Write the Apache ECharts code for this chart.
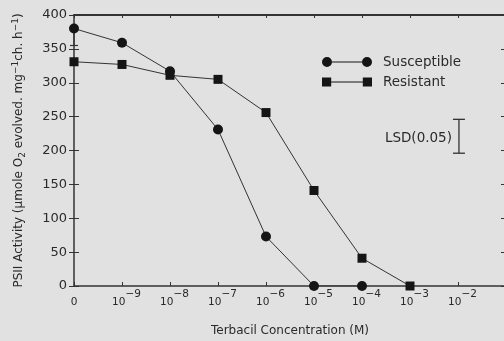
<!DOCTYPE html>
<html>
<head>
<meta charset="utf-8">
<script src="https://cdn.jsdelivr.net/npm/echarts@6/dist/echarts.min.js"></script>
<style>
html,body{margin:0;padding:0;background:#e1e1e1;}
#c{width:504px;height:341px;}
</style>
</head>
<body>
<div id="c"></div>
<script>
// x positions: 0 = control, 1..8 = 10^-9 .. 10^-2 M
var xExponents = [null, -9, -8, -7, -6, -5, -4, -3, -2];
var susceptibleX = [0, 1, 2, 3, 4, 5, 6];
var susceptibleY = [380, 359, 317, 231, 73, 0, 0];
var resistantX = [0, 1, 2, 3, 4, 5, 6, 7];
var resistantY = [331, 327, 311, 305, 256, 141, 41, 0];
// error bar (susceptible control)
var errX = [0];
var errLow = [355];
var errHigh = [380];
// LSD bar
var lsdX = [8.02];
var lsdLow = [196];
var lsdHigh = [246];
var lsdLabel = 'LSD(0.05)';

var FONT = 'DejaVu Sans';
var AX = '#333';

function pairs(xs, ys){ return xs.map(function(x,i){return [x, ys[i]];}); }

var chart = echarts.init(document.getElementById('c'), null, {renderer:'canvas'});

var circleIcon = 'path://M0,5A5,5,0,1,1,10,5A5,5,0,1,1,0,5Z M10,4.5L40,4.5L40,5.5L10,5.5Z M40,5A5,5,0,1,1,50,5A5,5,0,1,1,40,5Z';
var squareIcon = 'path://M0.5,0.5L9.5,0.5L9.5,9.5L0.5,9.5Z M9.5,4.5L40.5,4.5L40.5,5.5L9.5,5.5Z M40.5,0.5L49.5,0.5L49.5,9.5L40.5,9.5Z';

var xBase = {
  type:'value', min:0, max:9, interval:1,
  splitLine:{show:false}
};
var yBase = {
  type:'value', min:0, max:400, interval:50,
  splitLine:{show:false}
};

chart.setOption({
  backgroundColor:'#e1e1e1',
  animation:false,
  grid:{left:74, right:-2, top:15, bottom:55, outerBoundsMode:'none', containLabel:false},
  legend:{
    orient:'vertical', left:317, top:50, padding:5, itemWidth:50, itemHeight:10, itemGap:6,
    textStyle:{fontFamily:FONT, fontSize:13.5, color:'#2a2a2a', padding:[0,0,0,6]},
    data:[{name:'Susceptible', icon:circleIcon},{name:'Resistant', icon:squareIcon}]
  },
  xAxis:[
    Object.assign({}, xBase, {
      position:'bottom',
      name:'Terbacil Concentration (M)', nameLocation:'middle', nameGap:39,
      nameTextStyle:{fontFamily:FONT, fontSize:12, color:'#2a2a2a'},
      axisLine:{show:true, onZero:false, lineStyle:{color:AX, width:1.5}},
      axisTick:{show:true, inside:true, length:4, lineStyle:{color:AX}},
      axisLabel:{
        margin:3, color:'#2a2a2a', fontFamily:FONT,
        formatter:function(v){
          var i = Math.round(v);
          if (i === 0) return '{b|0}';
          if (i > 8) return '';
          return '{p|}{b|10}{s|\u2212' + (-xExponents[i]) + '}';
        },
        rich:{
          p:{width:9},
          b:{fontSize:10.5, lineHeight:26, fontFamily:FONT, color:'#2a2a2a'},
          s:{fontSize:10.5, verticalAlign:'top', fontFamily:FONT, color:'#2a2a2a'}
        }
      }
    }),
    Object.assign({}, xBase, {
      position:'top',
      axisLine:{show:true, onZero:false, lineStyle:{color:AX, width:1.8}},
      axisTick:{show:true, inside:true, length:3, lineStyle:{color:AX}},
      axisLabel:{show:false}
    }),
    Object.assign({}, xBase, {
      position:'top',
      axisLine:{show:false},
      axisTick:{show:true, inside:false, length:3, lineStyle:{color:AX}},
      axisLabel:{show:false}
    })
  ],
  yAxis:[
    Object.assign({}, yBase, {
      position:'left',
      name:'PSII Activity (\u03bcmole O{sub|2} evolved. mg{sup|\u22121}ch. h{sup|\u22121})',
      nameLocation:'middle', nameGap:47, nameRotate:90,
      nameTextStyle:{
        fontFamily:FONT, fontSize:12, color:'#2a2a2a', lineHeight:16,
        rich:{
          sub:{fontSize:9, verticalAlign:'bottom', fontFamily:FONT, color:'#2a2a2a'},
          sup:{fontSize:9, verticalAlign:'top', fontFamily:FONT, color:'#2a2a2a'}
        }
      },
      axisLine:{show:true, onZero:false, lineStyle:{color:AX, width:1.5}},
      axisTick:{show:true, inside:false, length:5, lineStyle:{color:AX}},
      axisLabel:{margin:7, fontFamily:FONT, fontSize:13, color:'#2a2a2a'}
    }),
    Object.assign({}, yBase, {
      position:'left',
      axisLine:{show:false},
      axisTick:{show:true, inside:true, length:5, lineStyle:{color:AX}},
      axisLabel:{show:false}
    }),
    Object.assign({}, yBase, {
      position:'right',
      axisLine:{show:true, onZero:false, lineStyle:{color:AX, width:1.5}},
      axisTick:{show:true, inside:true, length:5, lineStyle:{color:AX}},
      axisLabel:{show:false}
    })
  ],
  series:[
    {
      name:'Susceptible', type:'line', xAxisIndex:0, yAxisIndex:0,
      data:pairs(susceptibleX, susceptibleY),
      symbol:'circle', symbolSize:10,
      itemStyle:{color:'#151515'},
      lineStyle:{color:'#333', width:1},
      z:3
    },
    {
      name:'Resistant', type:'line', xAxisIndex:0, yAxisIndex:0,
      data:pairs(resistantX, resistantY),
      symbol:'rect', symbolSize:9,
      itemStyle:{color:'#151515'},
      lineStyle:{color:'#333', width:1},
      z:3
    },
    {
      type:'custom', xAxisIndex:0, yAxisIndex:0, silent:true,
      data:errX.map(function(x,i){return [x, errLow[i], errHigh[i]];}),
      renderItem:function(params, api){
        var lo = api.coord([api.value(0), api.value(1)]);
        var hi = api.coord([api.value(0), api.value(2)]);
        var st = {stroke:'#333', lineWidth:1.2};
        return {type:'group', children:[
          {type:'line', shape:{x1:lo[0], y1:lo[1], x2:hi[0], y2:hi[1]}, style:st},
          {type:'line', shape:{x1:lo[0]-4, y1:lo[1], x2:lo[0]+4, y2:lo[1]}, style:st}
        ]};
      },
      z:2
    },
    {
      type:'custom', xAxisIndex:0, yAxisIndex:0, silent:true,
      data:lsdX.map(function(x,i){return [x, lsdLow[i], lsdHigh[i]];}),
      renderItem:function(params, api){
        var lo = api.coord([api.value(0), api.value(1)]);
        var hi = api.coord([api.value(0), api.value(2)]);
        var st = {stroke:'#333', lineWidth:1.3};
        return {type:'group', children:[
          {type:'line', shape:{x1:lo[0], y1:lo[1], x2:hi[0], y2:hi[1]}, style:st},
          {type:'line', shape:{x1:lo[0]-6, y1:lo[1], x2:lo[0]+6, y2:lo[1]}, style:st},
          {type:'line', shape:{x1:hi[0]-6, y1:hi[1], x2:hi[0]+6, y2:hi[1]}, style:st},
          {type:'text', style:{text:lsdLabel, x:lo[0]-7, y:(lo[1]+hi[1])/2+2,
            align:'right', verticalAlign:'middle', fontFamily:FONT, fontSize:13.5, fill:'#2a2a2a'}}
        ]};
      },
      z:2
    }
  ]
});
</script>
</body>
</html>
